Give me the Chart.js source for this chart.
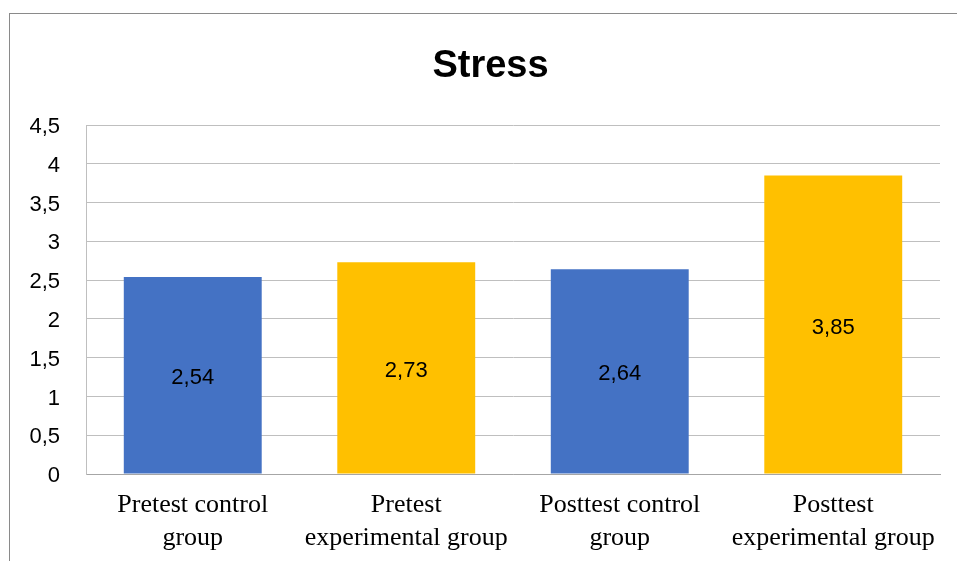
<!DOCTYPE html>
<html>
<head>
<meta charset="utf-8">
<title>Stress</title>
<script src="https://cdn.jsdelivr.net/npm/chart.js@4"></script>
<style>
  html, body { margin: 0; padding: 0; background: #fff; overflow: hidden; width: 957px; height: 561px; }
  #wrap { position: relative; width: 957px; height: 561px; overflow: hidden; }
  #frame { position: absolute; left: 9px; top: 13px; width: 1000px; height: 600px;
           border-left: 1px solid #8a8a8a; border-top: 1px solid #8a8a8a; pointer-events: none; }
  canvas { position: absolute; left: 0; top: 0; }
</style>
</head>
<body>
<div id="wrap">
  <canvas id="chart" width="981" height="561"></canvas>
  <div id="frame"></div>
</div>
<script>
// Group names (two lines each) and mean stress scores
const categories = [
  ["Pretest control", "group"],
  ["Pretest", "experimental group"],
  ["Posttest control", "group"],
  ["Posttest", "experimental group"]
];
const stressScores = [2.54, 2.73, 2.64, 3.85];
const barColors = ["#4472C4", "#FFC000", "#4472C4", "#FFC000"];
const yTickValues = [0, 0.5, 1, 1.5, 2, 2.5, 3, 3.5, 4, 4.5];

// Decimal comma formatting
const fmt = v => String(v).replace(".", ",");

// Value labels centred inside each bar
const valueLabels = {
  id: "valueLabels",
  afterDatasetsDraw(chart) {
    const ctx = chart.ctx;
    const meta = chart.getDatasetMeta(0);
    const values = chart.data.datasets[0].data;
    ctx.save();
    ctx.font = '22px "Liberation Sans", Arial, sans-serif';
    ctx.fillStyle = "#000";
    ctx.textAlign = "center";
    ctx.textBaseline = "middle";
    meta.data.forEach((bar, i) => {
      const midY = (bar.y + bar.base) / 2;
      ctx.fillText(fmt(values[i]), bar.x, midY + 3);
    });
    ctx.restore();
  }
};

new Chart(document.getElementById("chart"), {
  type: "bar",
  data: {
    labels: categories,
    datasets: [{
      data: stressScores,
      backgroundColor: barColors,
      borderWidth: 0,
      categoryPercentage: 1,
      barPercentage: 0.646
    }]
  },
  options: {
    responsive: false,
    animation: false,
    layout: { padding: 0 },
    plugins: {
      legend: { display: false },
      tooltip: { enabled: false },
      title: {
        display: true,
        text: "Stress",
        color: "#000",
        font: { family: '"Liberation Sans", Arial, sans-serif', size: 38, weight: "bold" },
        padding: { top: 43.7, bottom: 35.7 }
      }
    },
    scales: {
      x: {
        grid: { display: false, drawTicks: false },
        border: { display: true, color: "#a6a6a6", width: 1 },
        ticks: {
          color: "#000",
          padding: 15,
          maxRotation: 0,
          autoSkip: false,
          font: { family: '"Liberation Serif", "Times New Roman", serif', size: 26, lineHeight: 1.27 }
        },
        afterFit(scale) { scale.height = 87; }
      },
      y: {
        min: 0,
        max: 4.5,
        afterBuildTicks(scale) { scale.ticks = yTickValues.map(v => ({ value: v })); },
        grid: { color: "#bfbfbf", drawTicks: false, lineWidth: 1 },
        border: { display: true, color: "#bfbfbf", width: 1 },
        ticks: {
          color: "#000",
          padding: 26,
          labelOffset: 2,
          font: { family: '"Liberation Sans", Arial, sans-serif', size: 22 },
          callback: v => fmt(v)
        },
        afterFit(scale) { scale.width = 86; }
      },
      // empty right-hand margin strip beside the plot
      yRight: {
        position: "right",
        min: 0,
        max: 4.5,
        grid: { display: false, drawTicks: false },
        border: { display: false },
        ticks: { display: false },
        afterFit(scale) { scale.width = 41; }
      }
    }
  },
  plugins: [valueLabels]
});
</script>
</body>
</html>
